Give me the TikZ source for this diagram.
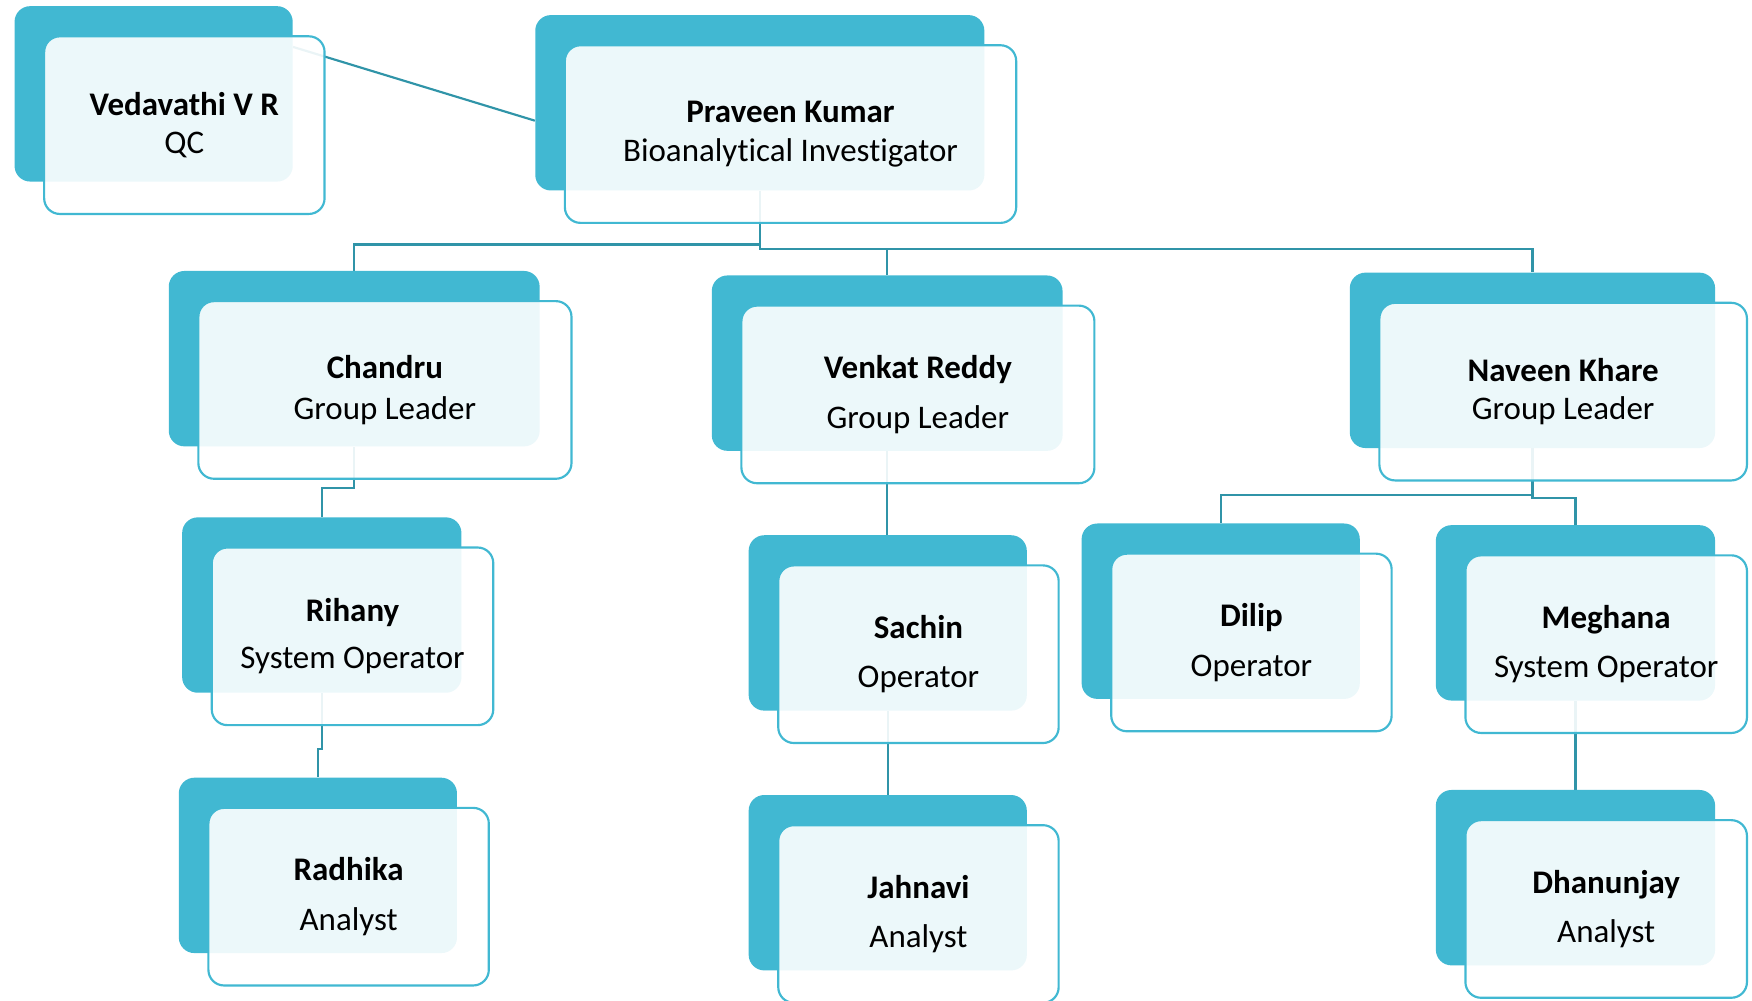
\documentclass[tikz,border=0pt]{standalone}
\usepackage{fontspec}
\setmainfont{Carlito}[Ligatures=NoCommon]
\usetikzlibrary{backgrounds}
\definecolor{boxteal}{HTML}{41B8D2}
\definecolor{linkteal}{HTML}{3094A8}
\tikzset{
	backbox/.style={rectangle, rounded corners=0.28cm, fill=boxteal, minimum height=3.14cm, minimum width=#1, inner sep=0pt},
	frontbox/.style={rectangle, rounded corners=0.28cm, draw=boxteal, line width=1.1pt, fill=white, fill opacity=0.9, text opacity=1, minimum height=3.18cm, minimum width=#1, inner sep=0pt, align=center, font=\fontsize{16.8}{19.6}\selectfont},
	link/.style={draw=linkteal, line width=1.1pt}
}
\begin{document}
\begin{tikzpicture}[x=0.02cm, y=-0.02cm]
				\useasboundingbox (0,0) rectangle (1568,895);
				% top level
				\node[backbox=4.98cm] (vr)at(137.5, 84) {};
				\node[frontbox=5.02cm] (vrf)at([xshift=0.55cm, yshift=-0.56cm]vr.center) {\textbf{Vedavathi V R}\\QC};
				\node[backbox=8.04cm] (pk)at(680, 92) {};
				\node[frontbox=8.08cm] (pkf)at([xshift=0.55cm, yshift=-0.56cm]pk.center) {\textbf{Praveen Kumar}\\Bioanalytical Investigator};
				% group leaders
				\node[backbox=6.64cm] (ch)at(317, 321) {};
				\node[frontbox=6.68cm] (chf)at([xshift=0.55cm, yshift=-0.56cm]ch.center) {\textbf{Chandru}\\[1pt]Group Leader};
				\node[backbox=6.28cm] (vk)at(794, 325) {};
				\node[frontbox=6.32cm] (vkf)at([xshift=0.55cm, yshift=-0.56cm]vk.center) {\textbf{Venkat Reddy}\\[6pt]Group Leader};
				\node[backbox=6.54cm] (nk)at(1371.5, 322.5) {};
				\node[frontbox=6.58cm] (nkf)at([xshift=0.55cm, yshift=-0.56cm]nk.center) {\textbf{Naveen Khare}\\Group Leader};
				% operators
				\node[backbox=5cm] (rh)at(288, 541.5) {};
				\node[frontbox=5.04cm] (rhf)at([xshift=0.55cm, yshift=-0.56cm]rh.center) {\textbf{Rihany}\\[4.5pt]System Operator};
				\node[backbox=4.98cm] (sa)at(794.5, 557.5) {};
				\node[frontbox=5.02cm] (saf)at([xshift=0.55cm, yshift=-0.56cm]sa.center) {\textbf{Sachin}\\[5pt]Operator};
				\node[backbox=4.98cm] (di)at(1092.5, 547) {};
				\node[frontbox=5.02cm] (dif)at([xshift=0.55cm, yshift=-0.56cm]di.center) {\textbf{Dilip}\\[6pt]Operator};
				\node[backbox=5cm] (me)at(1410, 548.5) {};
				\node[frontbox=5.04cm] (mef)at([xshift=0.55cm, yshift=-0.56cm]me.center) {\textbf{Meghana}\\[5.5pt]System Operator};
				% analysts
				\node[backbox=4.98cm] (ra)at(284.5, 774.5) {};
				\node[frontbox=5.02cm] (raf)at([xshift=0.55cm, yshift=-0.56cm]ra.center) {\textbf{Radhika}\\[5.5pt]Analyst};
				\node[backbox=4.98cm] (ja)at(794.5, 790) {};
				\node[frontbox=5.02cm] (jaf)at([xshift=0.55cm, yshift=-0.56cm]ja.center) {\textbf{Jahnavi}\\[5pt]Analyst};
				\node[backbox=5cm] (dh)at(1410, 785.5) {};
				\node[frontbox=5.04cm] (dhf)at([xshift=0.55cm, yshift=-0.56cm]dh.center) {\textbf{Dhanunjay}\\[5pt]Analyst};
				% connectors behind the boxes
				\begin{pgfonlayer}{background}
				\draw[link] ([yshift=-0.32cm]pk.west) -- ([yshift=0.84cm]vr.east);
				\draw[link] (pk.south) -- ++(0, 48) -| (ch.north);
				\draw[link] (pk.south) -- ++(0, 52) -| (vk.north);
				\draw[link] (pk.south) -- ++(0, 52) -| (nk.north);
				\draw[link] (ch.south) -- ++(0, 37) -| (rh.north);
				\draw[link] (rh.south) -- ++(0, 50) -| (ra.north);
				\draw[link] (vk.south) -- (vk.south |- sa.north);
				\draw[link] (sa.south) -- (sa.south |- ja.north);
				\draw[link] (nk.south) -- ++(0, 42) -| (di.north);
				\draw[link] (nk.south) -- ++(0, 44) -| (me.north);
				\draw[link] (me.south) -- (me.south |- dh.north);
				\end{pgfonlayer}
			\end{tikzpicture}
\end{document}
